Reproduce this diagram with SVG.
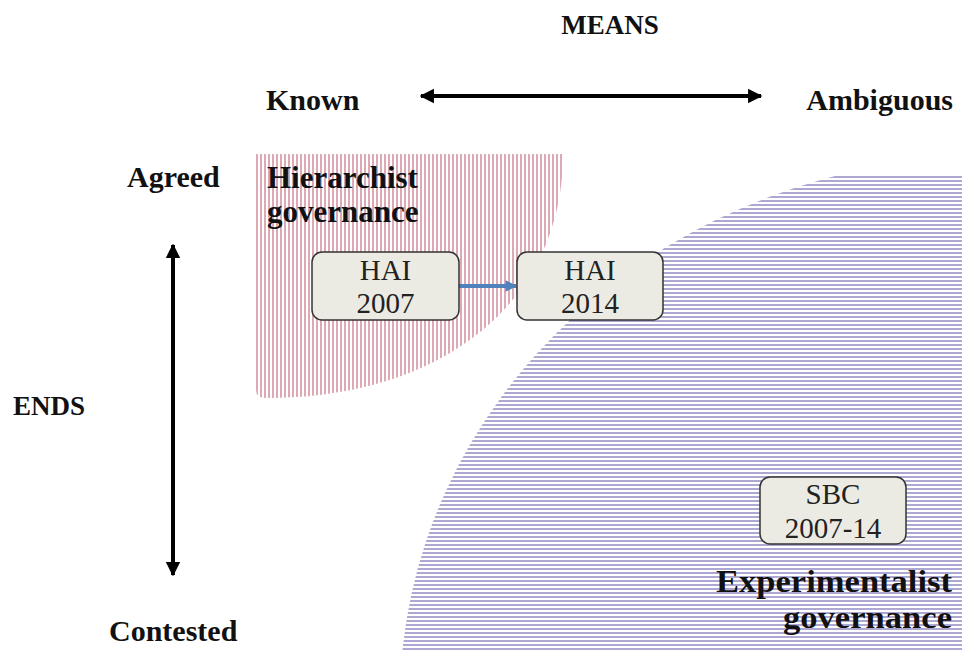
<svg xmlns="http://www.w3.org/2000/svg" width="962" height="650" viewBox="0 0 962 650">
<defs>
<pattern id="vstripe" patternUnits="userSpaceOnUse" x="256" y="0" width="4" height="4">
<rect x="0" y="0" width="2" height="4" fill="#dca9b5"/>
</pattern>
<pattern id="hstripe" patternUnits="userSpaceOnUse" x="0" y="176" width="4" height="4">
<rect x="0" y="0" width="4" height="2" fill="#aca8d2"/>
</pattern>
<clipPath id="lavclip"><rect x="0" y="176" width="962" height="474"/></clipPath>
<marker id="bh" viewBox="0 0 10 10" refX="9" refY="5" markerWidth="3.6" markerHeight="4.6" orient="auto-start-reverse" markerUnits="strokeWidth">
<path d="M0,0 L10,5 L0,10 Z" fill="#000"/>
</marker>
<marker id="blh" viewBox="0 0 10 10" refX="9" refY="5" markerWidth="3.2" markerHeight="2.9" orient="auto" markerUnits="strokeWidth">
<path d="M0,0 L10,5 L0,10 Z" fill="#4f81bd"/>
</marker>
</defs>
<style>
.lbl{font-family:"Liberation Serif","Times New Roman",serif;font-weight:bold;fill:#111;}
.box{fill:#ecebe3;stroke:#333;stroke-width:1.5;}
.bt{font-family:"Liberation Serif","Times New Roman",serif;font-size:29px;fill:#222;text-anchor:middle;}
</style>
<rect width="962" height="650" fill="#fff"/>
<g id="regions">
<path id="hier-region" d="M256,154 H563 C563,300 445,398 266,398 Q256,398 256,390 Z" fill="url(#vstripe)"/>
<ellipse id="exp-region" cx="1000" cy="700" rx="600" ry="545" fill="url(#hstripe)" clip-path="url(#lavclip)"/>
</g>
<g id="labels">
<text class="lbl" x="610" y="34" font-size="27" text-anchor="middle">MEANS</text>
<text class="lbl" x="266" y="110" font-size="30">Known</text>
<text class="lbl" x="953" y="110" font-size="30" text-anchor="end">Ambiguous</text>
<text class="lbl" x="127" y="187" font-size="30">Agreed</text>
<text class="lbl" x="13" y="415" font-size="27">ENDS</text>
<text class="lbl" x="109" y="641" font-size="30">Contested</text>
<text class="lbl" x="267" y="188" font-size="31">Hierarchist</text>
<text class="lbl" x="267" y="222" font-size="31">governance</text>
<text class="lbl" x="952" y="592" font-size="32" text-anchor="end" textLength="236" lengthAdjust="spacingAndGlyphs">Experimentalist</text>
<text class="lbl" x="952" y="628" font-size="32" text-anchor="end" textLength="169" lengthAdjust="spacingAndGlyphs">governance</text>
</g>
<g id="connectors">
<line x1="421" y1="96" x2="761" y2="96" stroke="#000" stroke-width="4" marker-start="url(#bh)" marker-end="url(#bh)"/>
<line x1="173" y1="245" x2="173" y2="575" stroke="#000" stroke-width="4" marker-start="url(#bh)" marker-end="url(#bh)"/>
<line x1="458" y1="286" x2="516" y2="286" stroke="#4f81bd" stroke-width="4" marker-end="url(#blh)"/>
</g>
<g id="hai2007">
<rect class="box" x="312" y="252" width="147" height="68" rx="10"/>
<text class="bt" x="385.5" y="280">HAI</text>
<text class="bt" x="385.5" y="313">2007</text>
</g>
<g id="hai2014">
<rect class="box" x="517" y="252" width="146" height="68" rx="10"/>
<text class="bt" x="590" y="280">HAI</text>
<text class="bt" x="590" y="313">2014</text>
</g>
<g id="sbc">
<rect class="box" x="760" y="477" width="146" height="67" rx="10"/>
<text class="bt" x="833" y="504">SBC</text>
<text class="bt" x="833" y="538">2007-14</text>
</g>
</svg>
